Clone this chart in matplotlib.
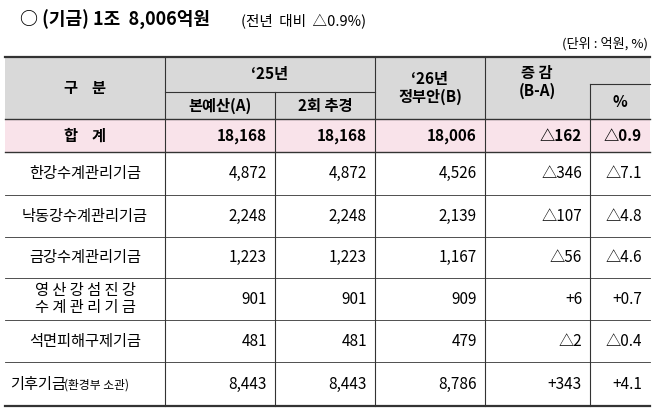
import matplotlib.pyplot as plt
from matplotlib.patches import Rectangle

plt.rcParams['font.family'] = ['Noto Sans CJK KR', 'DejaVu Sans']

categories = ['합    계', '한강수계관리기금', '낙동강수계관리기금', '금강수계관리기금',
              '영 산 강 섬 진 강\n수 계 관 리 기 금', '석면피해구제기금', '기후기금']
budget_a = ['18,168', '4,872', '2,248', '1,223', '901', '481', '8,443']
supp2 = ['18,168', '4,872', '2,248', '1,223', '901', '481', '8,443']
gov_b = ['18,006', '4,526', '2,139', '1,167', '909', '479', '8,786']
diff = ['△162', '△346', '△107', '△56', '+6', '△2', '+343']
pct = ['△0.9', '△7.1', '△4.8', '△4.6', '+0.7', '△0.4', '+4.1']

W, H = 658, 419
fig = plt.figure(figsize=(W/100, H/100), dpi=100)
ax = fig.add_axes([0, 0, 1, 1])
ax.set_xlim(0, W); ax.set_ylim(H, 0); ax.axis('off')

cols = [5, 165, 275, 375, 485, 590, 650]
row_y = [119, 152, 195, 237, 278, 320, 362, 406]
top, mid = 57, 92
gray = '#d9d9d9'
lc = '#333333'

ax.text(20, 20, '○ (기금) 1조  8,006억원', fontsize=13, fontweight='bold', va='center')
ax.text(241, 21, '(전년  대비  △0.9%)', fontsize=10.5, va='center')
ax.text(648, 44, '(단위 : 억원, %)', fontsize=9.5, va='center', ha='right')

ax.add_patch(Rectangle((cols[0], top), cols[-1]-cols[0], row_y[0]-top, color=gray, lw=0))
ax.add_patch(Rectangle((cols[0], row_y[0]), cols[-1]-cols[0], row_y[1]-row_y[0], color='#f9e3ea', lw=0))

ax.plot([cols[0], cols[-1]], [top, top], color=lc, lw=1.6)
ax.plot([cols[1], cols[3]], [mid, mid], color=lc, lw=0.8)
ax.plot([cols[5], cols[6]], [84, 84], color=lc, lw=0.8)
for i, y in enumerate(row_y):
    lw = 1.6 if i == len(row_y)-1 else (1.0 if i < 2 else 0.6)
    ax.plot([cols[0], cols[-1]], [y, y], color=lc, lw=lw)
for x in [cols[1], cols[3], cols[4]]:
    ax.plot([x, x], [top, row_y[-1]], color=lc, lw=0.8)
ax.plot([cols[2], cols[2]], [mid, row_y[-1]], color=lc, lw=0.8)
ax.plot([cols[5], cols[5]], [84, row_y[-1]], color=lc, lw=0.8)

hb = dict(fontsize=11, fontweight='bold', ha='center', va='center')
ax.text(85, 88, '구    분', **hb)
ax.text(270, 74, '‘25년', **hb)
ax.text(220, 106, '본예산(A)', **hb)
ax.text(325, 106, '2회 추경', **hb)
ax.text(430, 88, '‘26년\n정부안(B)', linespacing=1.1, **hb)
ax.text(537, 82, '증 감\n(B-A)', linespacing=1.1, **hb)
ax.text(620, 102, '%', **hb)

for i, cat in enumerate(categories):
    yc = (row_y[i] + row_y[i+1]) / 2
    b = 'bold' if i == 0 else 'normal'
    fs = 11
    if i == len(categories) - 1:
        ax.text(10, yc, '기후기금', fontsize=fs, va='center')
        ax.text(64, yc+1, '(환경부 소관)', fontsize=8.5, va='center')
    elif i == 0:
        ax.text(85, yc, cat, fontsize=fs, fontweight='bold', ha='center', va='center')
    else:
        ax.text(85, yc, cat, fontsize=fs, ha='center', va='center', linespacing=1.05)
    for j, vals in enumerate([budget_a, supp2, gov_b, diff, pct]):
        ax.text(cols[j+2]-8, yc, vals[i], fontsize=11, fontweight=b, ha='right', va='center')

fig.savefig('out.png', dpi=100)
